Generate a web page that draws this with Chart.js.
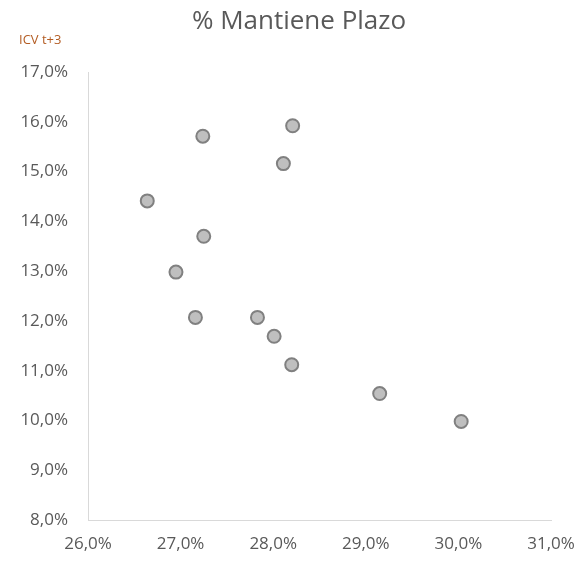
<!DOCTYPE html>
<html>
<head>
<meta charset="utf-8">
<script src="https://cdn.jsdelivr.net/npm/chart.js@4"></script>
<style>
  html, body { margin: 0; padding: 0; background: #fff; }
  #wrap { width: 578px; height: 561px; }
</style>
</head>
<body>
<div id="wrap"><canvas id="scatterChart"></canvas></div>
<script>
// % Mantiene Plazo (x) vs ICV t+3 (y)
const mantienePlazo = [27.24, 28.21, 28.11, 26.64, 27.25, 26.95, 27.16, 27.83, 28.01, 28.20, 29.15, 30.03];
const icvT3 = [15.71, 15.92, 15.16, 14.41, 13.70, 12.98, 12.07, 12.07, 11.69, 11.12, 10.54, 9.98];
const xRange = [26, 31];
const yRange = [8, 17];

const fmtPct = v => v.toFixed(1).replace('.', ',') + '%';

// title and the small axis label above the y axis
const headerText = {
    id: 'headerText',
    afterDraw(chart) {
        const ctx = chart.ctx;
        ctx.save();
        ctx.textBaseline = 'middle';
        ctx.fillStyle = '#595959';
        ctx.font = '26px "Open Sans"';
        ctx.textAlign = 'center';
        ctx.fillText('% Mantiene Plazo', 299, 22);
        ctx.fillStyle = '#b35c23';
        ctx.font = '13px "Open Sans"';
        ctx.textAlign = 'left';
        ctx.fillText('ICV t+3', 19, 40);
        ctx.restore();
    }
};

const ctx = document.getElementById('scatterChart').getContext('2d');
new Chart(ctx, {
    type: 'scatter',
    data: {
        datasets: [{
            label: 'ICV t+3',
            data: mantienePlazo.map((x, i) => ({ x: x, y: icvT3[i] })),
            backgroundColor: '#bfbfbf',
            borderColor: '#808080',
            borderWidth: 2,
            pointRadius: 6.5,
            pointHoverRadius: 6.5
        }]
    },
    options: {
        responsive: true,
        maintainAspectRatio: false,
        animation: false,
        layout: { padding: { left: 0, right: 27, top: 72, bottom: 0 } },
        plugins: {
            legend: { display: false },
            tooltip: { enabled: false },
            title: { display: false }
        },
        scales: {
            x: {
                type: 'linear',
                min: xRange[0],
                max: xRange[1],
                grid: { display: false, drawTicks: false },
                border: { color: '#d9d9d9', width: 1 },
                afterFit: s => {
                    s.height = 41;
                    s.paddingLeft = 0;
                    s.paddingRight = 0;
                },
                ticks: {
                    stepSize: 1,
                    padding: 14,
                    color: '#595959',
                    font: { family: '"Open Sans"', size: 17 },
                    callback: v => fmtPct(v)
                }
            },
            y: {
                type: 'linear',
                min: yRange[0],
                max: yRange[1],
                grid: { display: false, drawTicks: false },
                border: { color: '#d9d9d9', width: 1 },
                afterFit: s => {
                    s.width = 88;
                    s.paddingTop = 0;
                    s.paddingBottom = 0;
                },
                ticks: {
                    stepSize: 1,
                    padding: 20,
                    color: '#595959',
                    font: { family: '"Open Sans"', size: 17 },
                    callback: v => fmtPct(v)
                }
            }
        }
    },
    plugins: [headerText]
});
</script>
</body>
</html>
